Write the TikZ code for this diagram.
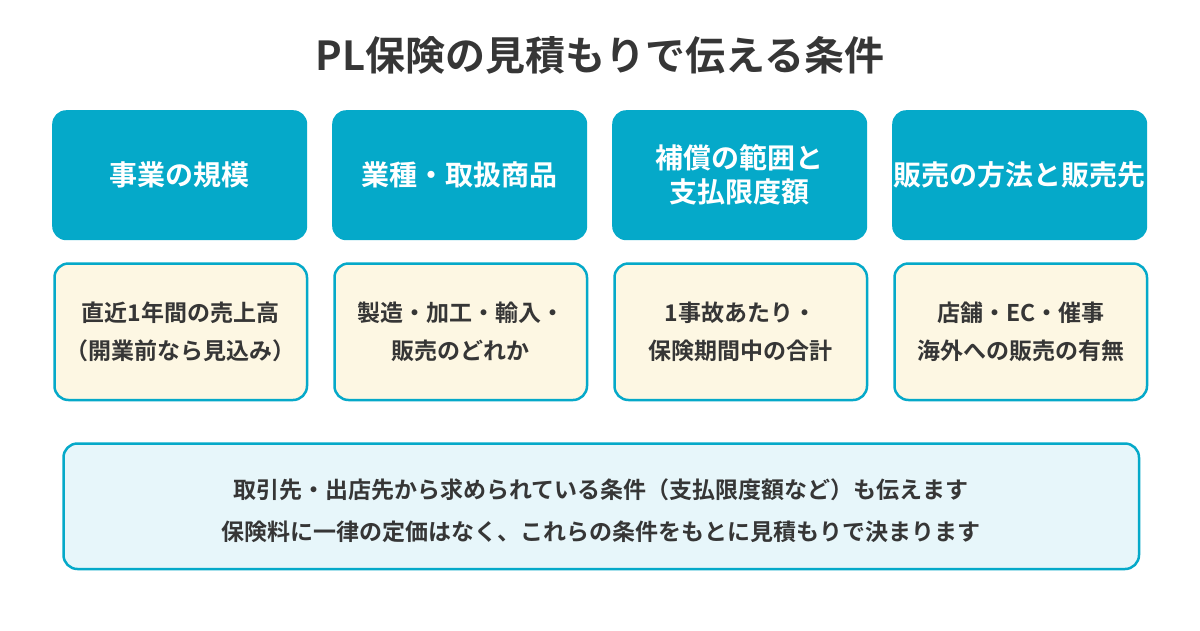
\documentclass[tikz,border=0pt]{standalone}
\usepackage{fontspec}
\setmainfont{Noto Sans CJK JP}[BoldFont={Noto Sans CJK JP Bold}]
\definecolor{cyanM}{HTML}{05A9C9}
\definecolor{creamM}{HTML}{FDF7E3}
\definecolor{paleM}{HTML}{E7F6FA}
\definecolor{inkM}{HTML}{363636}
\begin{document}
\begin{tikzpicture}[x=1pt,y=-1pt,
  headbox/.style={fill=cyanM, rounded corners=14pt, minimum width=255pt, minimum height=130pt, inner sep=0pt, anchor=north west, text=white, font=\bfseries\fontsize{28}{34}\selectfont, align=center},
  detailbox/.style={fill=creamM, draw=cyanM, line width=2.5pt, rounded corners=14pt, minimum width=252.5pt, minimum height=136.5pt, inner sep=0pt, anchor=north west, text=inkM, font=\bfseries\fontsize{23}{38}\selectfont, align=center},
  notebox/.style={fill=paleM, draw=cyanM, line width=2.5pt, rounded corners=14pt, minimum width=1075.5pt, minimum height=125.5pt, inner sep=0pt, anchor=north west},
  notetext/.style={text=inkM, font=\bfseries\fontsize{23}{42}\selectfont, align=center},
  titletext/.style={text=inkM, font=\bfseries\fontsize{40}{46}\selectfont}
]
\useasboundingbox (0,0) rectangle (1200,630);
\fill[white] (0,0) rectangle (1200,630);
\node[titletext] (title) at (600,55) {PL保険の見積もりで伝える条件};

\node[headbox] (h1) at (52,110) {事業の規模};
\node[headbox] (h2) at (332,110) {業種・取扱商品};
\node[headbox] (h3) at (612,110) {補償の範囲と\\支払限度額};
\node[headbox] (h4) at (892,110) {販売の方法と販売先};

\node[detailbox] (d1) at (53.25,262.25) {直近1年間の売上高\\（開業前なら見込み）};
\node[detailbox] (d2) at (333.25,262.25) {製造・加工・輸入・\\販売のどれか};
\node[detailbox] (d3) at (613.25,262.25) {1事故あたり・\\保険期間中の合計};
\node[detailbox] (d4) at (893.25,262.25) {店舗・EC・催事\\海外への販売の有無};

\node[notebox] (n) at (62.25,442.25) {};
\node[notetext] (nt) at ([yshift=-4pt]n.center) {取引先・出店先から求められている条件（支払限度額など）も伝えます\\保険料に一律の定価はなく、これらの条件をもとに見積もりで決まります};
\end{tikzpicture}
\end{document}
